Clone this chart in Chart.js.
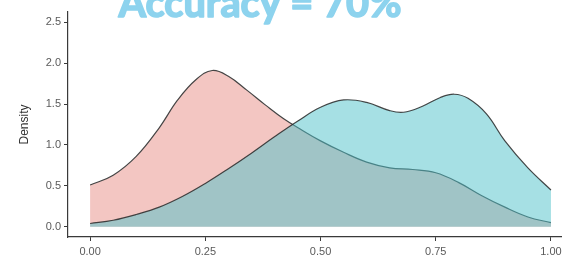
<!DOCTYPE html>
<html>
<head>
<meta charset="utf-8">
<script src="https://cdn.jsdelivr.net/npm/chart.js@4.4.1/dist/chart.umd.min.js"></script>
<style>
  html, body { margin: 0; padding: 0; background: #fff; overflow: hidden; }
  #wrap { width: 590px; height: 259px; position: relative; }
</style>
</head>
<body>
<div id="wrap"><canvas id="grafico"></canvas></div>
<script>
// titulo e eixos
var titulo = "Accuracy = 70%";
var tituloY = "Density";
var ticksX = [0, 0.25, 0.5, 0.75, 1];
var ticksY = [0, 0.5, 1, 1.5, 2, 2.5];

// curva vermelha (densidade)
var xVermelho = [0.00, 0.05, 0.10, 0.15, 0.19, 0.23, 0.265, 0.30, 0.34, 0.38, 0.42, 0.46, 0.50, 0.55, 0.60, 0.65, 0.70, 0.75, 0.80, 0.85, 0.90, 0.95, 1.00];
var yVermelho = [0.51, 0.63, 0.86, 1.21, 1.55, 1.80, 1.91, 1.84, 1.67, 1.49, 1.32, 1.18, 1.05, 0.91, 0.79, 0.72, 0.70, 0.66, 0.54, 0.38, 0.24, 0.12, 0.05];

// curva azul (densidade)
var xAzul = [0.00, 0.05, 0.10, 0.15, 0.20, 0.25, 0.30, 0.35, 0.40, 0.45, 0.50, 0.55, 0.60, 0.65, 0.68, 0.72, 0.76, 0.79, 0.82, 0.86, 0.90, 0.95, 1.00];
var yAzul = [0.04, 0.08, 0.15, 0.24, 0.37, 0.53, 0.71, 0.90, 1.10, 1.29, 1.46, 1.55, 1.52, 1.42, 1.40, 1.47, 1.58, 1.62, 1.57, 1.38, 1.05, 0.72, 0.45];

function pares(xs, ys) {
    return xs.map(function (x, i) { return { x: x, y: ys[i] }; });
}

// desenha o titulo grande no topo (cortado como no original)
var tituloPlugin = {
    id: 'tituloPlugin',
    afterDraw: function (chart) {
        var ctx = chart.ctx;
        ctx.save();
        ctx.font = 'bold 100px Lato';
        var w = ctx.measureText(titulo).width;
        var size = 100 * 283 / w;
        ctx.font = 'bold ' + size + 'px Lato';
        ctx.fillStyle = '#8dd3ee';
        ctx.strokeStyle = '#8dd3ee';
        ctx.lineWidth = 1.6;
        ctx.lineJoin = 'round';
        ctx.textAlign = 'center';
        ctx.textBaseline = 'alphabetic';
        ctx.fillText(titulo, 260, 17);
        ctx.strokeText(titulo, 260, 17); // engrossa um pouco o traço
        ctx.restore();
    }
};

var eixoCor = '#3a3a3a';
var textoCor = '#5a5a5a';

new Chart(document.getElementById('grafico').getContext('2d'), {
    type: 'line',
    data: {
        datasets: [{
            label: 'vermelho',
            data: pares(xVermelho, yVermelho),
            borderColor: '#444444',
            borderWidth: 1.2,
            backgroundColor: 'rgb(243, 198, 194)',
            fill: 'origin',
            pointRadius: 0,
            tension: 0.4,
            order: 2
        }, {
            label: 'azul',
            data: pares(xAzul, yAzul),
            borderColor: 'rgba(40, 40, 40, 0.85)',
            borderWidth: 1.2,
            backgroundColor: 'rgba(77, 193, 201, 0.5)',
            fill: 'origin',
            pointRadius: 0,
            tension: 0.4,
            order: 1
        }]
    },
    options: {
        responsive: true,
        maintainAspectRatio: false,
        animation: false,
        layout: { padding: { top: 12, right: 16, left: 0, bottom: 0 } },
        plugins: {
            legend: { display: false },
            tooltip: { enabled: false }
        },
        scales: {
            x: {
                type: 'linear',
                min: -0.048,
                max: 1.05,
                afterBuildTicks: function (axis) {
                    axis.ticks = ticksX.map(function (v) { return { value: v }; });
                },
                afterFit: function (axis) { axis.height = 22; },
                grid: { display: true, drawOnChartArea: false, drawTicks: true, tickLength: 4, color: eixoCor },
                border: { display: true, color: eixoCor, width: 1.2 },
                ticks: {
                    color: textoCor,
                    font: { size: 11, family: 'Liberation Sans' },
                    padding: 4,
                    maxRotation: 0,
                    callback: function (v) { return Number(v).toFixed(2); }
                }
            },
            y: {
                min: -0.125,
                max: 2.625,
                afterBuildTicks: function (axis) {
                    axis.ticks = ticksY.map(function (v) { return { value: v }; });
                },
                afterFit: function (axis) { axis.width = 68; },
                grid: { display: true, drawOnChartArea: false, drawTicks: true, tickLength: 4, color: eixoCor },
                border: { display: true, color: eixoCor, width: 1.2 },
                ticks: {
                    color: textoCor,
                    font: { size: 11, family: 'Liberation Sans' },
                    padding: 3,
                    callback: function (v) { return Number(v).toFixed(1); }
                },
                title: {
                    display: true,
                    text: tituloY,
                    color: '#333333',
                    font: { size: 12, family: 'Liberation Sans' },
                    padding: { top: 17, bottom: 0 }
                }
            }
        }
    },
    plugins: [tituloPlugin]
});
</script>
</body>
</html>
